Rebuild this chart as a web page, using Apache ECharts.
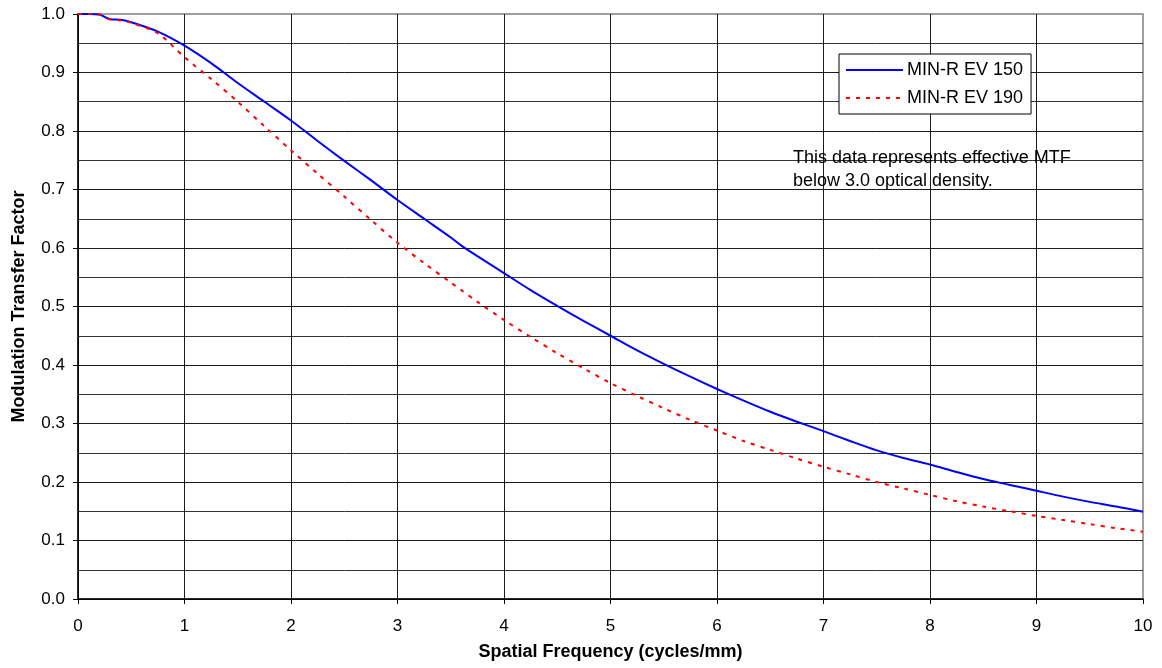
<!DOCTYPE html>
<html>
<head>
<meta charset="utf-8">
<script src="https://cdn.jsdelivr.net/npm/echarts@6/dist/echarts.min.js"></script>
<style>
html,body{margin:0;padding:0;background:#fff;}
#chart{width:1162px;height:668px;}
</style>
</head>
<body>
<div id="chart"></div>
<script>
// Spatial frequency (cycles/mm)
const freq = [0, 0.1, 0.2, 0.3, 0.4, 0.5, 0.75, 1, 1.25, 1.5, 1.75, 2, 2.25, 2.5, 2.75, 3, 3.25, 3.5, 3.6, 3.75, 4, 4.25, 4.5, 4.75, 5, 5.25, 5.5, 5.75, 6, 6.25, 6.5, 6.75, 7, 7.25, 7.5, 7.75, 8, 8.25, 8.5, 8.75, 9, 9.25, 9.5, 9.75, 10];
// MIN-R EV 150
const mtf150 = [1.000, 1.000, 0.999, 0.991, 0.990, 0.986, 0.970, 0.946, 0.916, 0.882, 0.850, 0.818, 0.783, 0.749, 0.716, 0.682, 0.650, 0.618, 0.604, 0.586, 0.557, 0.528, 0.501, 0.475, 0.450, 0.425, 0.402, 0.380, 0.359, 0.339, 0.320, 0.303, 0.287, 0.270, 0.254, 0.241, 0.230, 0.217, 0.205, 0.195, 0.185, 0.175, 0.166, 0.158, 0.149];
// MIN-R EV 190
const mtf190 = [1.000, 1.000, 0.999, 0.991, 0.989, 0.985, 0.967, 0.926, 0.889, 0.850, 0.808, 0.767, 0.727, 0.688, 0.648, 0.609, 0.574, 0.541, 0.528, 0.508, 0.477, 0.448, 0.420, 0.394, 0.369, 0.347, 0.326, 0.306, 0.288, 0.270, 0.255, 0.240, 0.226, 0.213, 0.200, 0.189, 0.178, 0.167, 0.158, 0.150, 0.142, 0.135, 0.128, 0.121, 0.115];

const seriesNames = ['MIN-R EV 150', 'MIN-R EV 190'];
const xTitle = 'Spatial Frequency (cycles/mm)';
const yTitle = 'Modulation Transfer Factor';
const noteText = 'This data represents effective MTF\nbelow 3.0 optical density.';

const FONT = '"Liberation Sans", Arial, sans-serif';
const chart = echarts.init(document.getElementById('chart'), null, {renderer: 'canvas'});

const option = {
  backgroundColor: '#fff',
  animation: false,
  textStyle: {fontFamily: FONT, color: '#000'},
  grid: {
    left: 78, right: 19, top: 14, bottom: 69,
    show: true, borderColor: '#a0a0a0', borderWidth: 2, backgroundColor: 'transparent'
  },
  legend: {
    orient: 'vertical',
    left: 839, top: 54,
    padding: [7, 8, 7, 6],
    itemGap: 10,
    itemWidth: 57, itemHeight: 14,
    backgroundColor: '#fff',
    borderColor: '#000', borderWidth: 1,
    itemStyle: {opacity: 0},
    textStyle: {fontFamily: FONT, fontSize: 18, color: '#000', padding: [0, 0, 0, -1]},
    data: seriesNames
  },
  xAxis: {
    type: 'value', min: 0, max: 10, interval: 1,
    name: xTitle, nameLocation: 'middle', nameGap: 44,
    nameTextStyle: {fontFamily: FONT, fontSize: 18, fontWeight: 'bold', color: '#000'},
    axisLine: {show: true, lineStyle: {color: '#000', width: 1.5}},
    axisTick: {show: true, length: 5, lineStyle: {color: '#000'}},
    axisLabel: {fontFamily: FONT, fontSize: 17, color: '#000', margin: 19},
    splitLine: {show: true, showMaxLine: false, lineStyle: {color: '#1a1a1a', width: 1}}
  },
  yAxis: {
    type: 'value', min: 0, max: 1, interval: 0.1,
    name: yTitle, nameLocation: 'middle', nameGap: 50, nameRotate: 90,
    nameTextStyle: {fontFamily: FONT, fontSize: 18, fontWeight: 'bold', color: '#000'},
    axisLine: {show: true, lineStyle: {color: '#000', width: 1.5}},
    axisTick: {show: true, length: 5, lineStyle: {color: '#000'}},
    axisLabel: {fontFamily: FONT, fontSize: 17, color: '#000', margin: 13, formatter: v => v.toFixed(1)},
    splitLine: {show: true, showMaxLine: false, lineStyle: {color: '#1a1a1a', width: 1}},
    minorTick: {show: false, splitNumber: 2},
    minorSplitLine: {show: true, lineStyle: {color: '#333', width: 1}}
  },
  graphic: [{
    type: 'text',
    left: 793, top: 147,
    z: 100,
    style: {
      text: noteText,
      font: '18px ' + FONT,
      fill: '#000',
      lineHeight: 23
    }
  }],
  series: [
    {
      name: seriesNames[0], type: 'line',
      data: freq.map((f, i) => [f, mtf150[i]]),
      symbol: 'none', smooth: 0.3,
      lineStyle: {color: '#0000ff', width: 2, type: 'solid'},
      itemStyle: {color: '#0000ff'},
      z: 4
    },
    {
      name: seriesNames[1], type: 'line',
      data: freq.map((f, i) => [f, mtf190[i]]),
      symbol: 'none', smooth: 0.3,
      lineStyle: {color: '#ff0000', width: 2, type: [4, 6]},
      itemStyle: {color: '#ff0000'},
      z: 5
    }
  ]
};
chart.setOption(option);
</script>
</body>
</html>
